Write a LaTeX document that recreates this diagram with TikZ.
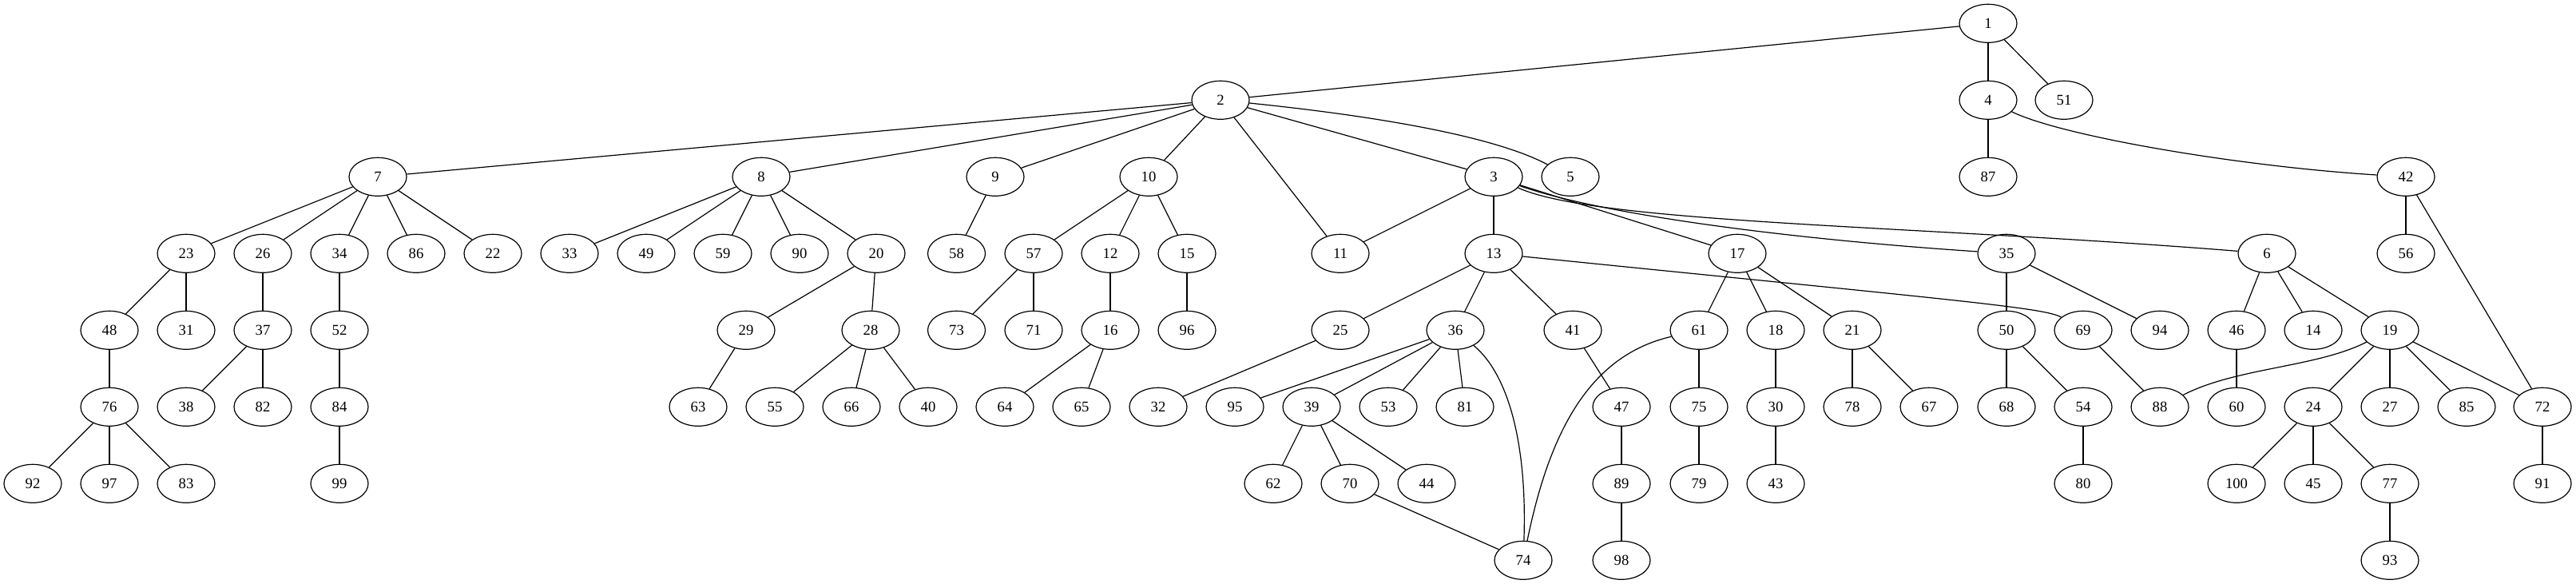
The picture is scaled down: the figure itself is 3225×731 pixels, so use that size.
\documentclass[tikz,border=0pt]{standalone}
\usepackage{fontspec}
\setmainfont{Liberation Serif}
\usetikzlibrary{shapes.geometric}
\begin{document}
\begin{tikzpicture}[x=0.75pt,y=-0.75pt,
  v/.style={draw,ellipse,line width=0.9pt,minimum width=54pt,minimum height=36pt,inner sep=0pt,font=\fontsize{14}{16}\selectfont},
  e/.style={line width=0.9pt}]
\useasboundingbox (0,0) rectangle (3225,731);
% rank 0
\node[v] (n1) at (2489,29.3) {1};
% rank 1
\node[v] (n2) at (1528,125.3) {2};
\node[v] (n4) at (2489,125.3) {4};
\node[v] (n51) at (2584,125.3) {51};
% rank 2
\node[v] (n7) at (473,221.3) {7};
\node[v] (n8) at (953,221.3) {8};
\node[v] (n9) at (1246,221.3) {9};
\node[v] (n10) at (1438,221.3) {10};
\node[v] (n3) at (1870,221.3) {3};
\node[v] (n5) at (1966,221.3) {5};
\node[v] (n87) at (2489,221.3) {87};
\node[v] (n42) at (3012,221.3) {42};
% rank 3
\node[v] (n23) at (233,317.3) {23};
\node[v] (n26) at (329,317.3) {26};
\node[v] (n34) at (425,317.3) {34};
\node[v] (n86) at (521,317.3) {86};
\node[v] (n22) at (617,317.3) {22};
\node[v] (n33) at (713,317.3) {33};
\node[v] (n49) at (809,317.3) {49};
\node[v] (n59) at (905,317.3) {59};
\node[v] (n90) at (1001,317.3) {90};
\node[v] (n20) at (1097,317.3) {20};
\node[v] (n58) at (1197.5,317.3) {58};
\node[v] (n57) at (1294,317.3) {57};
\node[v] (n12) at (1390,317.3) {12};
\node[v] (n15) at (1486,317.3) {15};
\node[v] (n11) at (1678,317.3) {11};
\node[v] (n13) at (1870,317.3) {13};
\node[v] (n17) at (2175,317.3) {17};
\node[v] (n35) at (2512,317.3) {35};
\node[v] (n6) at (2838,317.3) {6};
\node[v] (n56) at (3012,317.3) {56};
% rank 4
\node[v] (n48) at (137,413.3) {48};
\node[v] (n31) at (233,413.3) {31};
\node[v] (n37) at (329,413.3) {37};
\node[v] (n52) at (425,413.3) {52};
\node[v] (n29) at (934,413.3) {29};
\node[v] (n28) at (1090,413.3) {28};
\node[v] (n73) at (1197.5,413.3) {73};
\node[v] (n71) at (1294,413.3) {71};
\node[v] (n16) at (1390,413.3) {16};
\node[v] (n96) at (1486,413.3) {96};
\node[v] (n25) at (1678,413.3) {25};
\node[v] (n36) at (1822,413.3) {36};
\node[v] (n41) at (1969,413.3) {41};
\node[v] (n61) at (2127,413.3) {61};
\node[v] (n18) at (2223,413.3) {18};
\node[v] (n21) at (2319,413.3) {21};
\node[v] (n50) at (2512,413.3) {50};
\node[v] (n69) at (2608,413.3) {69};
\node[v] (n94) at (2704,413.3) {94};
\node[v] (n46) at (2800,413.3) {46};
\node[v] (n14) at (2896,413.3) {14};
\node[v] (n19) at (2992,413.3) {19};
% rank 5
\node[v] (n76) at (137,509.3) {76};
\node[v] (n38) at (233,509.3) {38};
\node[v] (n82) at (329,509.3) {82};
\node[v] (n84) at (425,509.3) {84};
\node[v] (n63) at (874,509.3) {63};
\node[v] (n55) at (970,509.3) {55};
\node[v] (n66) at (1066,509.3) {66};
\node[v] (n40) at (1162,509.3) {40};
\node[v] (n64) at (1258,509.3) {64};
\node[v] (n65) at (1354,509.3) {65};
\node[v] (n32) at (1450,509.3) {32};
\node[v] (n95) at (1546,509.3) {95};
\node[v] (n39) at (1642,509.3) {39};
\node[v] (n53) at (1738,509.3) {53};
\node[v] (n81) at (1834,509.3) {81};
\node[v] (n47) at (2030,509.3) {47};
\node[v] (n75) at (2127,509.3) {75};
\node[v] (n30) at (2223,509.3) {30};
\node[v] (n78) at (2319,509.3) {78};
\node[v] (n67) at (2415,509.3) {67};
\node[v] (n68) at (2512,509.3) {68};
\node[v] (n54) at (2608,509.3) {54};
\node[v] (n88) at (2704,509.3) {88};
\node[v] (n60) at (2800,509.3) {60};
\node[v] (n24) at (2896,509.3) {24};
\node[v] (n27) at (2992,509.3) {27};
\node[v] (n85) at (3088,509.3) {85};
\node[v] (n72) at (3183,509.3) {72};
% rank 6
\node[v] (n92) at (41,605.3) {92};
\node[v] (n97) at (137,605.3) {97};
\node[v] (n83) at (233,605.3) {83};
\node[v] (n99) at (425,605.3) {99};
\node[v] (n62) at (1594,605.3) {62};
\node[v] (n70) at (1690,605.3) {70};
\node[v] (n44) at (1786,605.3) {44};
\node[v] (n89) at (2030,605.3) {89};
\node[v] (n79) at (2127,605.3) {79};
\node[v] (n43) at (2223,605.3) {43};
\node[v] (n80) at (2608,605.3) {80};
\node[v] (n100) at (2800,605.3) {100};
\node[v] (n45) at (2896,605.3) {45};
\node[v] (n77) at (2992,605.3) {77};
\node[v] (n91) at (3183,605.3) {91};
% rank 7
\node[v] (n74) at (1907,701.3) {74};
\node[v] (n98) at (2030,701.3) {98};
\node[v] (n93) at (2992,701.3) {93};
% straight edges
\foreach \a/\b in {1/2,1/4,1/51,
  2/7,2/8,2/9,2/10,2/11,2/3,
  4/87,
  7/23,7/26,7/34,7/86,7/22,
  8/33,8/49,8/59,8/90,8/20,
  9/58, 10/57,10/12,10/15,
  3/11,3/13,3/17,
  42/56,42/72,
  23/48,23/31, 26/37, 34/52, 20/29,20/28, 57/73,57/71, 12/16, 15/96,
  13/25,13/36,13/41,
  17/61,17/18,17/21, 35/50,35/94, 6/46,6/14,6/19,
  48/76, 37/38,37/82, 52/84, 29/63, 28/55,28/66,28/40, 16/64,16/65,
  25/32, 36/95,36/39,36/53,36/81, 41/47, 61/75, 18/30, 21/78,21/67,
  50/68,50/54, 69/88, 46/60, 19/24,19/27,19/85,19/72,
  76/92,76/97,76/83, 84/99, 39/62,39/70,39/44, 47/89, 75/79, 30/43,
  54/80, 24/100,24/45,24/77, 72/91, 70/74, 89/98, 77/93}
  {\draw[e] (n\a) -- (n\b);}
% curved edges
\draw[e] (n2) .. controls (1720,145) and (1870,170) .. (n5);
\draw[e] (n3) .. controls (2000,280) and (2400,282) .. (n6);
\draw[e] (n3) .. controls (2010,270) and (2250,300) .. (n35);
\draw[e] (n13) .. controls (2450,376) and (2560,385) .. (n69);
\draw[e] (n4) .. controls (2580,170) and (2800,208) .. (n42);
\draw[e] (n36) .. controls (1890,470) and (1912,560) .. (n74);
\draw[e] (n61) .. controls (1990,445) and (1940,540) .. (n74);
\draw[e] (n19) .. controls (2900,460) and (2800,460) .. (n88);
\end{tikzpicture}
\end{document}
